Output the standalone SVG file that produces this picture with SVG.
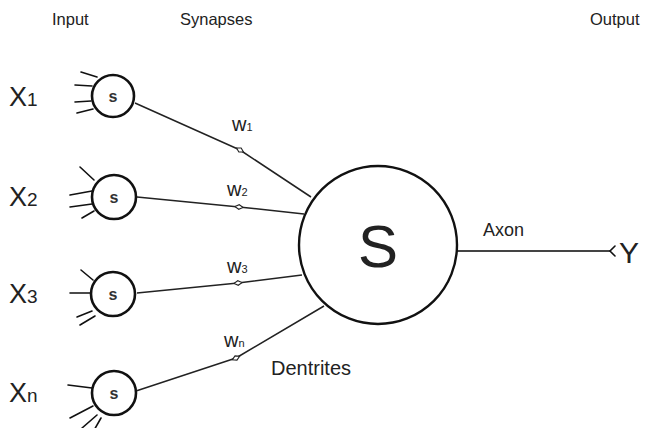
<svg xmlns="http://www.w3.org/2000/svg" width="657" height="428" viewBox="0 0 657 428">
  <style>
    .lbl { font-family: "Liberation Sans", Arial, sans-serif; fill: #222; }
    .head { font-size: 16.5px; }
    .cell { fill: #fff; stroke: #111; stroke-width: 2.6; }
    .cellTxt { font-size: 16px; font-weight: bold; fill: #333; }
    .soma { fill: #fff; stroke: #111; stroke-width: 2.4; }
    .den { stroke: #111; stroke-width: 1.6; fill: none; stroke-linecap: round; }
    .wire { stroke: #222; stroke-width: 1.5; fill: none; stroke-linejoin: round; }
    .syn { fill: #fff; stroke: #222; stroke-width: 1.1; }
  </style>
  <defs>
    <!-- small synapse mark placed where each dendrite bends -->
    <path id="synMark" class="syn" d="M-4,0 L0,-2.3 L4,0 L0,2.3 Z"/>
  </defs>

  <rect width="657" height="428" fill="#fff"/>

  <!-- column headings -->
  <text class="lbl head" x="52" y="25">Input</text>
  <text class="lbl head" x="180" y="25">Synapses</text>
  <text class="lbl head" x="590" y="25">Output</text>

  <!-- connectors: dendrites into the soma, axon out -->
  <g id="connectors">
    <polyline class="wire" points="135,103 240,150 311,197"/>
    <polyline class="wire" points="137,197 239,207 304,214"/>
    <polyline class="wire" points="137,293 238,283 302,275"/>
    <polyline class="wire" points="136,391 236,358 324,306"/>
    <use href="#synMark" transform="translate(240,150) rotate(30)"/>
    <use href="#synMark" transform="translate(239,207) rotate(6)"/>
    <use href="#synMark" transform="translate(238,283) rotate(-6)"/>
    <use href="#synMark" transform="translate(236,358) rotate(-25)"/>
    <line x1="457" y1="251" x2="611" y2="251" stroke="#444" stroke-width="2"/>
    <path class="den" d="M615,246 L610,251 L615,256"/>
  </g>

  <!-- input neurons -->
  <g id="input1">
    <path class="den" d="M81,72 L97,77 M75,85 L92,86 M75,102 L91,101 M77,113 L93,109"/>
    <circle class="cell" cx="113" cy="96" r="21"/>
    <text class="lbl cellTxt" x="113" y="102" text-anchor="middle">s</text>
  </g>
  <g id="input2">
    <path class="den" d="M80,167 L94,180 M70,195 L92,191 M70,207 L92,204 M82,218 L94,211"/>
    <circle class="cell" cx="114" cy="197" r="22"/>
    <text class="lbl cellTxt" x="114" y="203" text-anchor="middle">s</text>
  </g>
  <g id="input3">
    <path class="den" d="M81,270 L93,280 M70,293 L91,293 M77,317 L92,311 M80,325 L95,316"/>
    <circle class="cell" cx="113" cy="294" r="22"/>
    <text class="lbl cellTxt" x="113" y="300" text-anchor="middle">s</text>
  </g>
  <g id="input4">
    <path class="den" d="M68,385 L92,388 M70,418 L93,406 M82,428 L97,415 M93,432 L101,418"/>
    <circle class="cell" cx="114" cy="393" r="22"/>
    <text class="lbl cellTxt" x="114" y="399" text-anchor="middle">s</text>
  </g>

  <!-- input labels -->
  <g id="labelX1"><text class="lbl" x="9" y="106" font-size="27">X<tspan font-size="19">1</tspan></text></g>
  <g id="labelX2"><text class="lbl" x="9" y="206" font-size="27">X<tspan font-size="19">2</tspan></text></g>
  <g id="labelX3"><text class="lbl" x="9" y="303" font-size="27">X<tspan font-size="19">3</tspan></text></g>
  <g id="labelXn"><text class="lbl" x="9" y="402" font-size="27">X<tspan font-size="19">n</tspan></text></g>

  <!-- weight labels -->
  <g id="weights" class="lbl">
    <text x="232" y="131" font-size="20">w<tspan font-size="11">1</tspan></text>
    <text x="227" y="196" font-size="20">w<tspan font-size="11">2</tspan></text>
    <text x="227" y="273" font-size="20">w<tspan font-size="11">3</tspan></text>
    <text x="224" y="347" font-size="20">w<tspan font-size="11">n</tspan></text>
  </g>

  <!-- summing soma -->
  <g id="soma">
    <circle class="soma" cx="378" cy="245" r="79"/>
    <text class="lbl" x="378" y="267" font-size="60" text-anchor="middle">S</text>
  </g>

  <text class="lbl" x="483" y="236" font-size="18">Axon</text>
  <text class="lbl" x="271" y="375" font-size="20">Dentrites</text>

  <g id="output">
    <text class="lbl" x="619" y="263" font-size="30">Y</text>
  </g>
</svg>
